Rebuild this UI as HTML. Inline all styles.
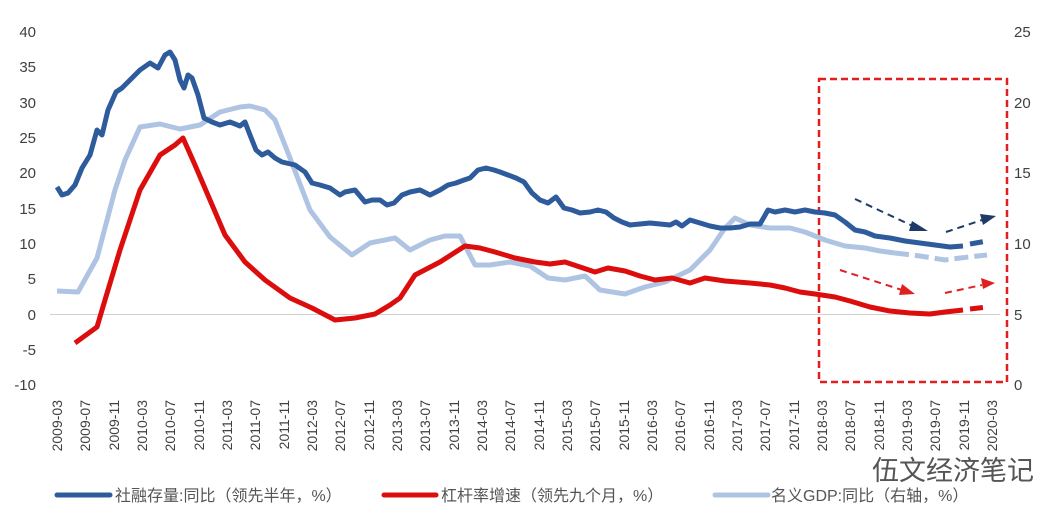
<!DOCTYPE html>
<html><head><meta charset="utf-8"><style>
html,body{margin:0;padding:0;background:#fff;}
svg{display:block;font-family:"Liberation Sans","Noto Sans CJK SC",sans-serif;}
</style></head><body>
<svg width="1054" height="524" viewBox="0 0 1054 524" xmlns="http://www.w3.org/2000/svg">
<g font-size="15" fill="#404040" text-anchor="end">
<text x="36" y="37">40</text><text x="36" y="72">35</text><text x="36" y="108">30</text><text x="36" y="143">25</text><text x="36" y="178">20</text><text x="36" y="214">15</text><text x="36" y="249">10</text><text x="36" y="284">5</text><text x="36" y="320">0</text><text x="36" y="355">-5</text><text x="36" y="390">-10</text>
</g>
<g font-size="15" fill="#404040">
<text x="1014" y="37">25</text><text x="1014" y="108">20</text><text x="1014" y="178">15</text><text x="1014" y="249">10</text><text x="1014" y="320">5</text><text x="1014" y="390">0</text>
</g>
<line x1="50" y1="314.5" x2="1000" y2="314.5" stroke="#d0d0d0" stroke-width="1"/>
<rect x="819" y="79" width="188" height="303" fill="none" stroke="#e02020" stroke-width="2.5" stroke-dasharray="7,4"/>
<polyline fill="none" stroke="#afc4e3" stroke-width="5" stroke-linejoin="round" points="57,291 78,292 97,258 115,190 125,160 140,127 160,124 180,129 200,125 220,112 240,107 250,106 265,110 275,120 290,158 310,210 330,237 352,255 370,243 395,238 410,250 430,240 445,236 460,236 475,265 490,265 510,262 530,266 548,278 565,280 585,276 600,290 625,294 645,287 665,282 690,270 710,250 725,228 735,218 750,225 770,228 790,228 805,232 825,240 845,246 865,248 880,251 895,253"/>
<polyline fill="none" stroke="#afc4e3" stroke-width="5" stroke-dasharray="14,6" points="895,253 920,256 945,260 960,258 987,255"/>
<polyline fill="none" stroke="#dc0d0d" stroke-width="5" stroke-linejoin="round" points="75,343 97,327 105,300 120,250 140,190 160,155 175,145 183,138 195,165 210,200 225,235 245,262 265,280 290,298 312,308 335,320 355,318 375,314 390,305 400,298 415,275 440,262 465,246 480,248 495,252 515,258 535,262 550,264 565,262 580,267 595,272 608,268 625,271 640,276 655,280 672,278 690,283 705,278 725,281 750,283 770,285 785,288 800,292 815,294 835,297 850,301 870,307 890,311 910,313 930,314 945,312 963,310"/>
<polyline fill="none" stroke="#dc0d0d" stroke-width="5" stroke-dasharray="13,5" points="970,309 987,307"/>
<polyline fill="none" stroke="#2e5b9b" stroke-width="5" stroke-linejoin="round" points="57,187 62,195 68,193 75,185 82,168 90,155 97,130 102,135 108,110 116,92 122,88 130,80 140,70 150,63 158,68 165,55 170,52 175,60 180,80 184,88 188,75 192,78 198,95 204,118 212,122 220,125 230,122 240,126 245,122 250,135 256,150 262,155 268,152 275,158 282,162 295,165 305,172 312,183 320,185 330,188 340,195 345,192 355,190 365,202 372,200 380,200 387,205 394,203 402,195 410,192 420,190 430,195 440,190 448,185 456,183 464,180 470,178 478,170 486,168 494,170 500,172 508,175 516,178 524,182 532,193 540,200 548,203 556,197 564,208 572,210 580,213 590,212 598,210 606,212 614,218 622,222 630,225 640,224 650,223 660,224 670,225 676,222 682,226 690,220 700,223 710,226 720,228 730,228 740,227 750,224 760,224 768,210 775,212 785,210 795,212 805,210 815,212 825,213 835,215 845,222 855,230 865,232 875,236 890,238 905,241 920,243 935,245 950,247 963,246"/>
<polyline fill="none" stroke="#2e5b9b" stroke-width="5" stroke-dasharray="13,5" points="970,244 987,241"/>
<g stroke-width="2" fill="none" stroke-dasharray="7,5">
<line x1="855" y1="199" x2="915" y2="227" stroke="#1f3a66"/>
<line x1="946" y1="232" x2="982" y2="220" stroke="#1f3a66"/>
<line x1="840" y1="270" x2="902" y2="290" stroke="#e02020"/>
<line x1="945" y1="293" x2="982" y2="285" stroke="#e02020"/>
</g>
<polygon points="928,231 912,221 909,231" fill="#1f3a66"/>
<polygon points="996,216 980,214 983,225" fill="#1f3a66"/>
<polygon points="915,294 902,284 899,295" fill="#e02020"/>
<polygon points="995,283 981,278 983,289" fill="#e02020"/>
<line x1="57" y1="495" x2="110" y2="495" stroke="#2e5b9b" stroke-width="5" stroke-linecap="round"/>
<text x="115" y="501" font-size="16" fill="#555">社融存量:同比（领先半年，%）</text>
<line x1="384" y1="495" x2="436" y2="495" stroke="#dc0d0d" stroke-width="5" stroke-linecap="round"/>
<text x="441" y="501" font-size="16" fill="#555">杠杆率增速（领先九个月，%）</text>
<line x1="715" y1="495" x2="768" y2="495" stroke="#afc4e3" stroke-width="5" stroke-linecap="round"/>
<text x="771" y="501" font-size="16" fill="#555">名义GDP:同比（右轴，%）</text>
<text x="872" y="480" font-size="27" fill="#555">伍文经济笔记</text>
<g font-size="14" fill="#404040" text-anchor="end">
<text transform="translate(62,400) rotate(-90)">2009-03</text>
<text transform="translate(90,400) rotate(-90)">2009-07</text>
<text transform="translate(119,400) rotate(-90)">2009-11</text>
<text transform="translate(147,400) rotate(-90)">2010-03</text>
<text transform="translate(175,400) rotate(-90)">2010-07</text>
<text transform="translate(204,400) rotate(-90)">2010-11</text>
<text transform="translate(232,400) rotate(-90)">2011-03</text>
<text transform="translate(260,400) rotate(-90)">2011-07</text>
<text transform="translate(289,400) rotate(-90)">2011-11</text>
<text transform="translate(317,400) rotate(-90)">2012-03</text>
<text transform="translate(345,400) rotate(-90)">2012-07</text>
<text transform="translate(374,400) rotate(-90)">2012-11</text>
<text transform="translate(402,400) rotate(-90)">2013-03</text>
<text transform="translate(430,400) rotate(-90)">2013-07</text>
<text transform="translate(459,400) rotate(-90)">2013-11</text>
<text transform="translate(487,400) rotate(-90)">2014-03</text>
<text transform="translate(515,400) rotate(-90)">2014-07</text>
<text transform="translate(544,400) rotate(-90)">2014-11</text>
<text transform="translate(572,400) rotate(-90)">2015-03</text>
<text transform="translate(600,400) rotate(-90)">2015-07</text>
<text transform="translate(629,400) rotate(-90)">2015-11</text>
<text transform="translate(657,400) rotate(-90)">2016-03</text>
<text transform="translate(685,400) rotate(-90)">2016-07</text>
<text transform="translate(714,400) rotate(-90)">2016-11</text>
<text transform="translate(742,400) rotate(-90)">2017-03</text>
<text transform="translate(770,400) rotate(-90)">2017-07</text>
<text transform="translate(799,400) rotate(-90)">2017-11</text>
<text transform="translate(827,400) rotate(-90)">2018-03</text>
<text transform="translate(855,400) rotate(-90)">2018-07</text>
<text transform="translate(884,400) rotate(-90)">2018-11</text>
<text transform="translate(912,400) rotate(-90)">2019-03</text>
<text transform="translate(940,400) rotate(-90)">2019-07</text>
<text transform="translate(969,400) rotate(-90)">2019-11</text>
<text transform="translate(997,400) rotate(-90)">2020-03</text>
</g>
</svg>
</body></html>
